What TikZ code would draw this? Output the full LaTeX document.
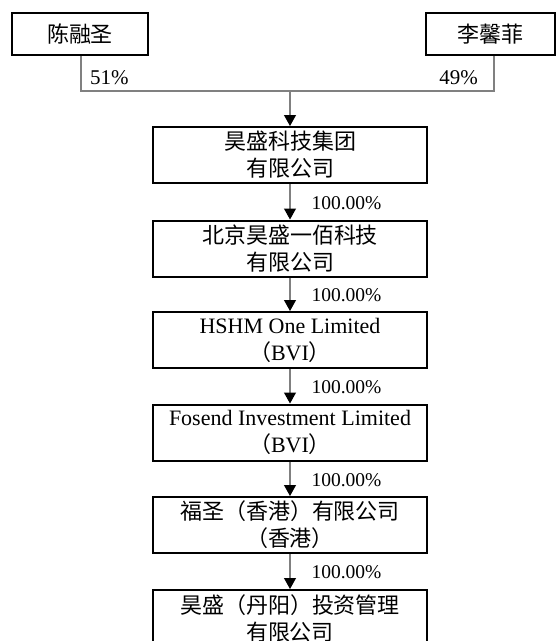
\documentclass[tikz,border=0pt]{standalone}
\usepackage{fontspec}
\setmainfont{Liberation Serif}
\newfontfamily\cjk{Noto Sans CJK SC}
\usetikzlibrary{arrows.meta}
\begin{document}
\begin{tikzpicture}[x=1pt,y=-1pt,
  co/.style={draw=black, line width=2pt, minimum width=274pt, minimum height=56pt, inner sep=0pt, align=center, font=\fontsize{22}{27}\selectfont, execute at begin node={\rule{0pt}{24pt}}},
  topbox/.style={draw=black, line width=2.5pt, minimum height=42pt, inner sep=0pt, font=\fontsize{22}{27}\selectfont\cjk},
  conn/.style={draw=gray, line width=1.1pt},
  arr/.style={conn, -{Triangle[width=12pt,length=11pt,color=black]}},
  pct/.style={font=\fontsize{19.5}{22}\selectfont, inner sep=0pt},
  pcttop/.style={font=\fontsize{21}{22}\selectfont, inner sep=0pt}]
\useasboundingbox (0,0) rectangle (556,641);
\clip (0,0) rectangle (556,641);

\node[topbox, minimum width=136pt] (a) at (80,34) {陈融圣};
\node[topbox, minimum width=129pt] (b) at (490.5,34) {李馨菲};

\node[co] (c1) at (290,155) {{\cjk 昊盛科技集团}\\{\cjk 有限公司}};
\node[co] (c2) at (290,248.5) {{\cjk 北京昊盛一佰科技}\\{\cjk 有限公司}};
\node[co] (c3) at (290,340) {HSHM One Limited\\{\cjk （}BVI{\cjk ）}};
\node[co] (c4) at (290,432.5) {Fosend Investment Limited\\{\cjk （}BVI{\cjk ）}};
\node[co] (c5) at (290,525) {{\cjk 福圣（香港）有限公司}\\{\cjk （香港）}};
\node[co] (c6) at (290,618) {{\cjk 昊盛（丹阳）投资管理}\\{\cjk 有限公司}};

\coordinate (j) at (290,91);
\coordinate (ja) at (81,91);
\coordinate (jb) at (494,91);

\draw[conn] ([xshift=1pt]a.south) -- (ja) -- (jb) -- ([xshift=3.5pt]b.south);
\node[pcttop, anchor=west] (pa) at (90,78) {51\%};
\node[pcttop, anchor=east] (pb) at (478,78) {49\%};
\draw[arr] (j) -- (c1);

\draw[arr] (c1) -- node[pct, anchor=west, xshift=21pt, yshift=-1pt] (p1) {100.00\%} (c2);
\draw[arr] (c2) -- node[pct, anchor=west, xshift=21pt, yshift=-1pt] (p2) {100.00\%} (c3);
\draw[arr] (c3) -- node[pct, anchor=west, xshift=21pt, yshift=-1pt] (p3) {100.00\%} (c4);
\draw[arr] (c4) -- node[pct, anchor=west, xshift=21pt, yshift=-1pt] (p4) {100.00\%} (c5);
\draw[arr] (c5) -- node[pct, anchor=west, xshift=21pt, yshift=-1pt] (p5) {100.00\%} (c6);
\end{tikzpicture}
\end{document}
